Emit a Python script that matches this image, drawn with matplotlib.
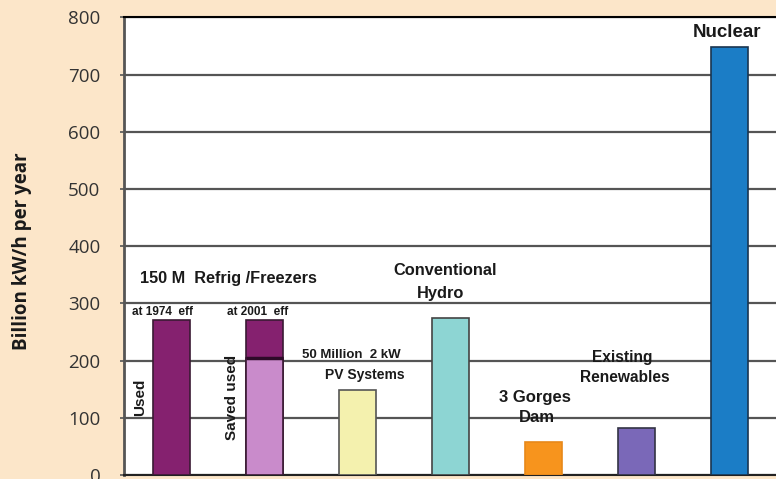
import matplotlib
matplotlib.use("Agg")
import matplotlib.pyplot as plt

# Annual electricity (billion kWh) for each source
categories = ["Refrig 1974", "Refrig 2001", "PV 50M", "Conventional Hydro",
              "3 Gorges Dam", "Existing Renewables", "Nuclear"]
values = [271, 271, 149, 274, 58, 82, 749]
saved_split = 204          # used portion of the 2001-efficiency bar
colors = ["#85216F", "#85216F", "#F4F1AE", "#8DD5D3", "#F7941D", "#7A68B8", "#1B7DC6"]
edge_colors = ["#3a1a33", "#3a1a33", "#555555", "#444444", "#E8891A", "#333344", "#1a3550"]
yticks = [0, 100, 200, 300, 400, 500, 600, 700, 800]

BG = "#FCE6C9"
fig = plt.figure(figsize=(7.76, 4.79), dpi=100, facecolor=BG)
ax = fig.add_axes([124 / 776, 4 / 479, 1 - 124 / 776, (475 - 17.5) / 479])
ax.set_facecolor("white")

x = list(range(len(categories)))
w = 0.4
ax.bar(x, values, width=w, color=colors, edgecolor=edge_colors, linewidth=1.2, zorder=3)
# lighter "used" portion of the 2001 bar, with dark divider on top
ax.bar(x[1], saved_split, width=w, color="#C98BCB", edgecolor="#3a1a33", linewidth=1.2, zorder=4)
ax.hlines(saved_split, x[1] - w / 2, x[1] + w / 2, color="#2e0a28", linewidth=2.5, zorder=5)

ax.set_xlim(-0.511, 6.5)
ax.set_ylim(0, 800)
ax.set_yticks(yticks)
ax.set_xticks([])
ax.yaxis.grid(True, color="#555555", linewidth=1.6, zorder=1)
ax.set_axisbelow(True)
ax.tick_params(axis="y", length=3, width=1.2, color="#555555", pad=14,
               labelsize=13.5, labelcolor="#333333")
for lab in ax.get_yticklabels():
    lab.set_fontfamily("Open Sans")

ax.spines["right"].set_visible(False)
ax.spines["top"].set_color("black")
ax.spines["top"].set_linewidth(1.5)
ax.spines["left"].set_color("#555555")
ax.spines["left"].set_linewidth(2)
ax.spines["bottom"].set_color("#222222")
ax.spines["bottom"].set_linewidth(1.5)

fig.text(22 / 776, 0.475, "Billion kW/h per year", rotation=90, ha="center", va="center",
         fontsize=13.5, fontweight="bold", family="Open Sans", color="#1a1a1a")

lbl = dict(family="Liberation Sans", fontweight="bold", color="#1a1a1a", zorder=6)
ax.text(-0.338, 344, "150 M  Refrig /Freezers", ha="left", va="center", fontsize=11.7, **lbl)
ax.text(-0.425, 285, "at 1974  eff", ha="left", va="center", fontsize=8.5, **lbl)
ax.text(0.596, 285, "at 2001  eff", ha="left", va="center", fontsize=8.5, **lbl)
ax.text(-0.338, 135, "Used", rotation=90, ha="center", va="center", fontsize=11, **lbl)
ax.text(0.65, 135, "Saved used", rotation=90, ha="center", va="center", fontsize=11, **lbl)
ax.text(1.934, 210, "50 Million  2 kW", ha="center", va="center", fontsize=9.5, **lbl)
ax.text(2.08, 175, "PV Systems", ha="center", va="center", fontsize=10, **lbl)
ax.text(2.94, 358, "Conventional", ha="center", va="center", fontsize=11.8, **lbl)
ax.text(2.89, 318, "Hydro", ha="center", va="center", fontsize=11.8, **lbl)
ax.text(3.91, 136, "3 Gorges", ha="center", va="center", fontsize=12, **lbl)
ax.text(3.93, 100, "Dam", ha="center", va="center", fontsize=12, **lbl)
ax.text(4.85, 206, "Existing", ha="center", va="center", fontsize=11.2, **lbl)
ax.text(4.87, 171, "Renewables", ha="center", va="center", fontsize=11.2, **lbl)
ax.text(5.97, 773, "Nuclear", ha="center", va="center", fontsize=13.5, **lbl)

fig.savefig("out.png", dpi=100, facecolor=BG)
